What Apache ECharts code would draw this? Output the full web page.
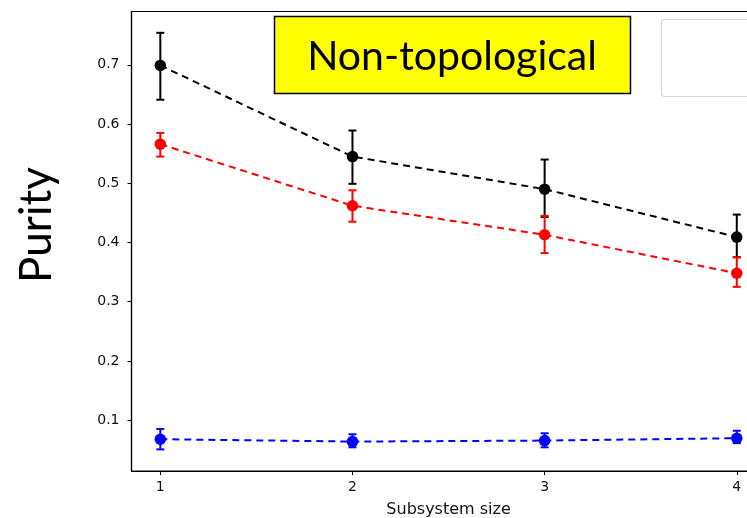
<!DOCTYPE html>
<html>
<head>
<meta charset="utf-8">
<title>Purity</title>
<script src="https://cdn.jsdelivr.net/npm/echarts@6/dist/echarts.min.js"></script>
<style>
html, body { margin: 0; padding: 0; background: #fff; }
#chart { width: 747px; height: 518px; }
</style>
</head>
<body>
<div id="chart"></div>
<script>
// subsystem sizes
var sizes = [1, 2, 3, 4];
var yTicks = [0.1, 0.2, 0.3, 0.4, 0.5, 0.6, 0.7];

// black curve
var blackMean = [0.699, 0.545, 0.490, 0.409];
var blackLow  = [0.641, 0.499, 0.443, 0.375];
var blackHigh = [0.754, 0.589, 0.540, 0.447];

// red curve (Exact)
var redMean = [0.566, 0.462, 0.413, 0.348];
var redLow  = [0.545, 0.435, 0.382, 0.325];
var redHigh = [0.585, 0.488, 0.445, 0.375];

// blue curve
var blueMean = [0.0677, 0.0637, 0.0654, 0.0694];
var blueLow  = [0.0505, 0.054, 0.054, 0.061];
var blueHigh = [0.085, 0.076, 0.0777, 0.082];

function pairs(ys) {
	return sizes.map(function (x, i) { return [x, ys[i]]; });
}
function bars(lo, hi) {
	return sizes.map(function (x, i) { return [x, lo[i], hi[i]]; });
}

// vertical error bar with caps
function errorBarItem(color) {
	return function (params, api) {
		var x = api.value(0);
		var top = api.coord([x, api.value(2)]);
		var bot = api.coord([x, api.value(1)]);
		var cap = 4;
		var style = { stroke: color, lineWidth: 2 };
		return {
			type: 'group',
			children: [
				{ type: 'line', shape: { x1: top[0], y1: top[1], x2: bot[0], y2: bot[1] }, style: style },
				{ type: 'line', shape: { x1: top[0] - cap, y1: top[1], x2: top[0] + cap, y2: top[1] }, style: style },
				{ type: 'line', shape: { x1: bot[0] - cap, y1: bot[1], x2: bot[0] + cap, y2: bot[1] }, style: style }
			]
		};
	};
}

function lineSeries(name, color, ys) {
	return {
		name: name,
		type: 'line',
		data: pairs(ys),
		symbol: 'circle',
		symbolSize: 11.5,
		itemStyle: { color: color },
		lineStyle: { color: color, width: 2, type: [7, 5] },
		z: 3
	};
}
function errSeries(color, lo, hi) {
	return {
		type: 'custom',
		data: bars(lo, hi),
		renderItem: errorBarItem(color),
		encode: { x: 0, y: [1, 2] },
		z: 2
	};
}

var chart = echarts.init(document.getElementById('chart'), null, { renderer: 'canvas' });

var tickFont = { fontFamily: 'DejaVu Sans', fontSize: 14, color: '#111' };

chart.setOption({
	animation: false,
	backgroundColor: '#fff',
	grid: {
		left: 131.5, top: 11.5, bottom: 47, right: -18.6,
		outerBoundsMode: 'none',
		containLabel: false,
		show: true, borderColor: '#000', borderWidth: 1.2
	},
	xAxis: {
		type: 'value',
		min: 0.85,
		max: 4.15,
		name: 'Subsystem size',
		nameLocation: 'middle',
		nameGap: 31,
		nameTextStyle: { fontFamily: 'DejaVu Sans', fontSize: 16, color: '#111' },
		splitLine: { show: false },
		axisLine: { show: true, onZero: false, lineStyle: { color: '#000', width: 1.2 } },
		axisTick: { show: true, inside: false, length: 4, customValues: sizes, lineStyle: { color: '#000' } },
		axisLabel: Object.assign({ margin: 9, customValues: sizes }, tickFont)
	},
	yAxis: {
		type: 'value',
		min: 0.014,
		max: 0.790,
		splitLine: { show: false },
		axisLine: { show: true, onZero: false, lineStyle: { color: '#000', width: 1.2 } },
		axisTick: { show: true, inside: false, length: 4, customValues: yTicks, lineStyle: { color: '#000' } },
		axisLabel: Object.assign({
			margin: 12,
			customValues: yTicks,
			formatter: function (v) { return v.toFixed(1); }
		}, tickFont)
	},
	series: [
		errSeries('#000000', blackLow, blackHigh),
		errSeries('#ff0000', redLow, redHigh),
		errSeries('#0000ff', blueLow, blueHigh),
		lineSeries('Series black', '#000000', blackMean),
		lineSeries('Exact', '#ff0000', redMean),
		lineSeries('Series blue', '#0000ff', blueMean)
	],
	graphic: [
		{
			type: 'rect',
			shape: { x: 661.5, y: 19.5, width: 120, height: 77, r: 3 },
			style: { fill: '#fff', stroke: '#d6d6d6', lineWidth: 1.2 },
			z: 10
		},
		{
			type: 'group',
			z: 10,
			children: [
				{ type: 'line', shape: { x1: 683, y1: 24, x2: 683, y2: 30 }, style: { stroke: '#ff0000', lineWidth: 2 } },
				{ type: 'line', shape: { x1: 679, y1: 24, x2: 687, y2: 24 }, style: { stroke: '#ff0000', lineWidth: 2 } },
				{ type: 'line', shape: { x1: 679, y1: 30, x2: 687, y2: 30 }, style: { stroke: '#ff0000', lineWidth: 2 } }
			]
		},
		{
			type: 'rect',
			shape: { x: 274.5, y: 16.5, width: 356, height: 77 },
			style: { fill: '#ffff00', stroke: '#000', lineWidth: 1.5 },
			z: 11
		},
		{
			type: 'text',
			x: 452,
			y: 57,
			z: 12,
			style: {
				text: 'Non-topological',
				font: '41px Lato',
				fill: '#000',
				align: 'center',
				verticalAlign: 'middle'
			}
		},
		{
			type: 'text',
			x: 37,
			y: 225,
			rotation: Math.PI / 2,
			z: 12,
			style: {
				text: 'Purity',
				font: '44px Lato',
				fill: '#000',
				align: 'center',
				verticalAlign: 'middle'
			}
		}
	]
});
</script>
</body>
</html>
